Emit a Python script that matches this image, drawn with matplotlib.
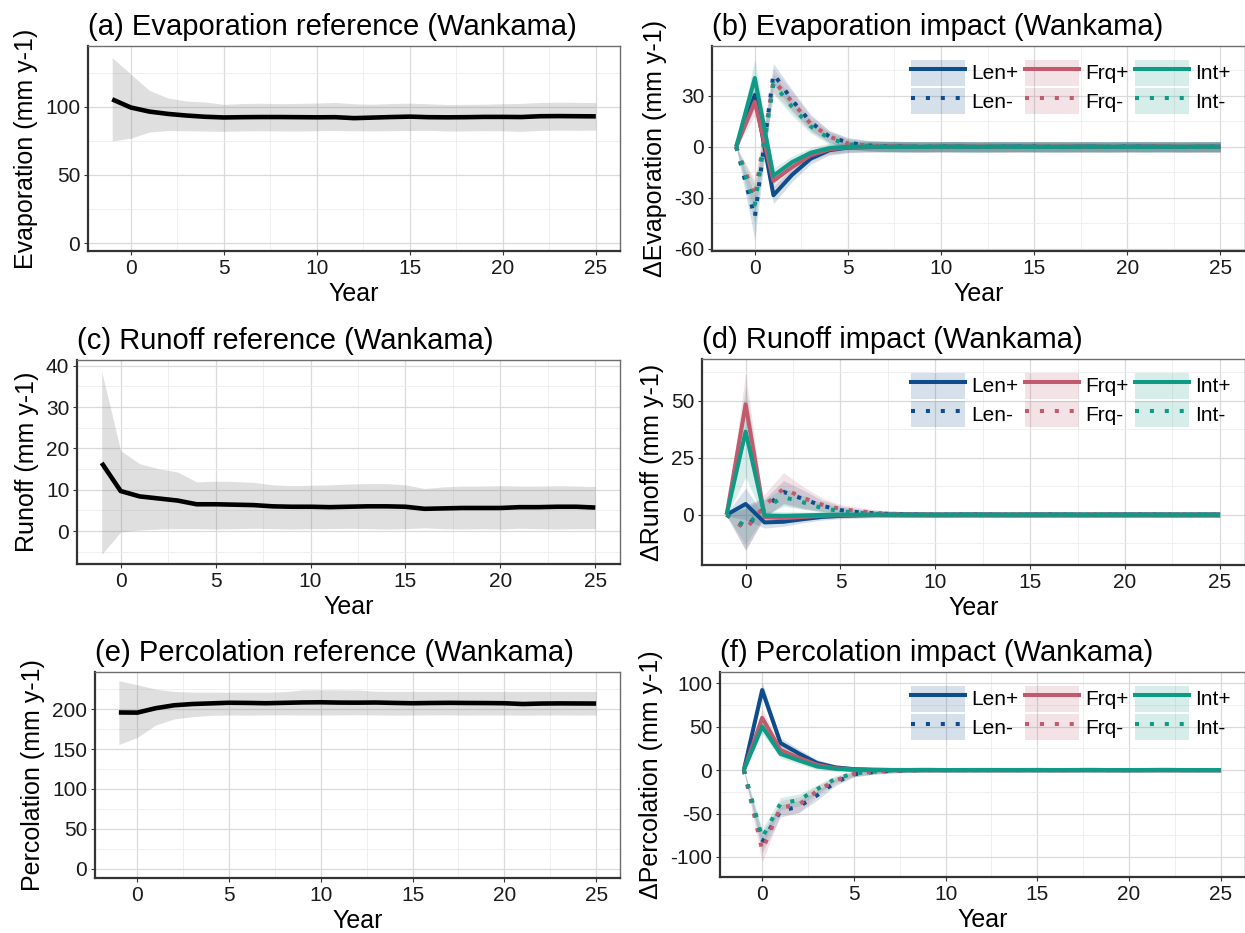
import matplotlib
matplotlib.use("Agg")
import matplotlib.pyplot as plt
from matplotlib.patches import Patch
from matplotlib.lines import Line2D
from matplotlib.ticker import MultipleLocator

plt.rcParams['font.family'] = ['Liberation Sans', 'DejaVu Sans']
plt.rcParams['axes.unicode_minus'] = False

years = list(range(-1, 26))

# reference runs (mean and ribbon bounds)
evap_mean = [105.5, 99.5, 96.5, 94.8, 93.6, 92.7, 92.2, 92.4, 92.5, 92.5, 92.4, 92.3, 92.4, 91.7,
             92.1, 92.5, 92.8, 92.4, 92.3, 92.4, 92.6, 92.6, 92.5, 93.1, 93.2, 93.1, 93.0]
evap_lo = [75.0, 77.0, 81.5, 82.6, 82.4, 82.2, 82.0, 82.3, 82.4, 82.3, 82.2, 82.5, 82.6, 82.4,
           82.3, 82.5, 82.6, 82.8, 82.2, 82.3, 82.5, 82.4, 82.0, 82.7, 82.9, 82.8, 82.9]
evap_hi = [136.0, 124.0, 112.0, 106.5, 104.2, 103.5, 101.8, 102.4, 102.6, 102.3, 102.5, 102.8, 103.2, 102.2,
           101.9, 102.4, 102.7, 102.2, 101.7, 101.8, 101.9, 102.3, 102.5, 103.2, 103.4, 103.3, 103.1]

run_mean = [16.5, 9.7, 8.4, 7.9, 7.4, 6.5, 6.5, 6.4, 6.3, 6.0, 5.9, 5.9, 5.8, 5.9,
            6.0, 6.0, 5.9, 5.4, 5.5, 5.6, 5.6, 5.6, 5.8, 5.8, 5.9, 5.9, 5.7]
run_lo = [-5.6, -0.2, 0.3, 0.5, 0.6, 0.6, 0.5, 0.6, 0.7, 0.6, 0.5, 0.6, 0.6, 0.7,
          0.6, 0.5, 0.6, 0.8, 0.6, 0.5, 0.6, 0.5, 0.7, 0.6, 0.5, 0.6, 0.6]
run_hi = [38.6, 19.5, 16.3, 15.1, 14.3, 11.9, 12.1, 12.0, 11.8, 11.2, 11.0, 11.1, 11.2, 11.4,
          11.5, 11.5, 11.2, 10.3, 10.7, 10.9, 10.9, 11.0, 10.9, 10.9, 11.0, 10.9, 10.8]

perc_mean = [196.0, 195.8, 201.3, 205.0, 206.6, 207.4, 208.2, 208.0, 207.6, 208.1, 208.6, 208.8, 208.4, 208.3,
             208.5, 208.0, 207.6, 207.9, 208.1, 207.9, 207.8, 207.6, 206.6, 207.2, 207.4, 207.3, 207.2]
perc_lo = [155.7, 164.6, 180.2, 187.8, 190.7, 192.4, 192.8, 192.6, 192.9, 193.0, 192.7, 192.8, 192.9, 193.1,
           192.9, 192.6, 192.8, 192.9, 193.0, 192.7, 192.8, 192.9, 192.6, 192.8, 192.9, 192.7, 192.8]
perc_hi = [235.9, 230.8, 225.3, 222.4, 221.6, 221.5, 221.4, 221.6, 221.5, 222.0, 224.3, 224.5, 224.4, 224.2,
           222.6, 222.4, 222.5, 222.4, 222.3, 222.4, 222.5, 222.4, 222.3, 222.4, 222.5, 222.4, 222.3]

# impact runs: scenario minus reference (mean) and ribbon half-width (sd)
evap_len_p = [0, 30.5, -28.5, -16.5, -7.0, -2.0, -0.5, -0.2, 0.0, 0.1, -0.1, 0.0, 0.1, -0.1,
              0.0, 0.1, 0.0, -0.1, 0.0, 0.1, -0.1, 0.0, 0.1, 0.0, -0.1, 0.0, 0.0]
evap_len_m = [0, -41.5, 43.0, 27.5, 14.5, 6.0, 2.5, 0.8, 0.3, 0.1, 0.0, 0.1, 0.0, -0.1,
              0.0, 0.0, 0.1, 0.0, -0.1, 0.0, 0.0, 0.1, 0.0, 0.0, -0.1, 0.0, 0.0]
evap_frq_p = [0, 26.5, -20.0, -12.0, -5.0, -1.5, -0.3, 0.0, 0.1, 0.0, -0.1, 0.0, 0.0, 0.1,
              0.0, -0.1, 0.0, 0.0, 0.1, 0.0, 0.0, -0.1, 0.0, 0.1, 0.0, 0.0, 0.0]
evap_frq_m = [0, -29.5, 39.0, 26.5, 13.5, 6.0, 2.0, 0.8, 0.3, 0.1, 0.0, 0.0, 0.1, 0.0,
              -0.1, 0.0, 0.0, 0.1, 0.0, 0.0, -0.1, 0.0, 0.0, 0.1, 0.0, 0.0, 0.0]
evap_int_p = [0, 40.5, -17.0, -9.0, -3.5, -0.8, 0.0, 0.1, 0.0, -0.1, 0.0, 0.1, 0.0, 0.0,
              0.1, 0.0, -0.1, 0.0, 0.0, 0.1, 0.0, 0.0, -0.1, 0.0, 0.0, 0.1, 0.0]
evap_int_m = [0, -34.0, 37.0, 23.5, 12.0, 5.0, 1.5, 0.5, 0.2, 0.0, 0.1, 0.0, 0.0, -0.1,
              0.0, 0.0, 0.1, 0.0, 0.0, -0.1, 0.0, 0.1, 0.0, 0.0, 0.0, -0.1, 0.0]
evap_len_p_sd = [0.5, 8.0, 5.0, 4.0, 3.2, 3.0, 3.0, 3.0, 3.1, 3.0, 2.9, 3.0, 3.1, 3.0,
                 3.0, 2.9, 3.0, 3.1, 3.0, 3.0, 2.9, 3.0, 3.1, 3.0, 3.0, 3.0, 3.0]
evap_len_m_sd = [0.5, 13.0, 6.0, 6.0, 4.5, 3.5, 3.0, 3.0, 3.0, 3.1, 3.0, 2.9, 3.0, 3.0,
                 3.1, 3.0, 3.0, 2.9, 3.0, 3.0, 3.1, 3.0, 3.0, 2.9, 3.0, 3.0, 3.0]
evap_frq_p_sd = [0.5, 8.0, 4.5, 3.5, 3.0, 3.0, 3.0, 3.0, 2.9, 3.0, 3.0, 3.1, 3.0, 3.0,
                 2.9, 3.0, 3.0, 3.0, 3.1, 3.0, 3.0, 2.9, 3.0, 3.0, 3.1, 3.0, 3.0]
evap_frq_m_sd = [0.5, 10.0, 7.0, 6.0, 4.5, 3.5, 3.0, 3.0, 3.0, 3.0, 3.1, 3.0, 2.9, 3.0,
                 3.0, 3.0, 3.1, 3.0, 3.0, 3.0, 2.9, 3.0, 3.0, 3.1, 3.0, 3.0, 3.0]
evap_int_p_sd = [0.5, 11.0, 4.5, 3.5, 3.0, 3.0, 3.0, 2.9, 3.0, 3.0, 3.0, 3.0, 3.1, 3.0,
                 3.0, 2.9, 3.0, 3.0, 3.0, 3.1, 3.0, 3.0, 2.9, 3.0, 3.0, 3.0, 3.0]
evap_int_m_sd = [0.5, 12.0, 6.0, 5.0, 4.0, 3.5, 3.0, 3.0, 3.1, 3.0, 3.0, 2.9, 3.0, 3.0,
                 3.1, 3.0, 3.0, 3.0, 2.9, 3.0, 3.0, 3.1, 3.0, 3.0, 2.9, 3.0, 3.0]

run_len_p = [0, 4.7, -3.4, -3.1, -2.0, -1.0, -0.5, -0.3, -0.1, 0.0, 0.0, -0.1, 0.0, 0.0,
             0.0, -0.1, 0.0, 0.0, 0.0, -0.1, 0.0, 0.0, 0.0, 0.0, -0.1, 0.0, 0.0]
run_len_m = [0, -5.6, 3.0, 10.0, 7.0, 4.0, 2.0, 1.0, 0.5, 0.2, 0.1, 0.0, 0.0, 0.1,
             0.0, 0.0, 0.0, 0.1, 0.0, 0.0, 0.0, 0.0, 0.1, 0.0, 0.0, 0.0, 0.0]
run_frq_p = [0, 48.5, -1.0, -1.5, -1.0, -0.5, -0.2, -0.1, 0.0, 0.0, 0.0, 0.0, -0.1, 0.0,
             0.0, 0.0, 0.0, 0.0, -0.1, 0.0, 0.0, 0.0, 0.0, 0.0, 0.0, -0.1, 0.0]
run_frq_m = [0, -6.5, 4.0, 11.5, 7.5, 4.5, 2.5, 1.5, 0.7, 0.3, 0.1, 0.0, 0.1, 0.0,
             0.0, 0.1, 0.0, 0.0, 0.0, 0.1, 0.0, 0.0, 0.0, 0.0, 0.1, 0.0, 0.0]
run_int_p = [0, 36.5, -0.4, -0.5, -0.3, -0.1, 0.0, 0.0, 0.0, 0.0, 0.0, 0.0, 0.0, 0.0,
             0.0, 0.0, 0.0, 0.0, 0.0, 0.0, 0.0, 0.0, 0.0, 0.0, 0.0, 0.0, 0.0]
run_int_m = [0, -5.0, 3.0, 7.7, 5.5, 3.0, 1.5, 0.8, 0.3, 0.1, 0.0, 0.0, 0.0, 0.1,
             0.0, 0.0, 0.0, 0.0, 0.1, 0.0, 0.0, 0.0, 0.0, 0.0, 0.0, 0.1, 0.0]
run_len_p_sd = [0.5, 7.0, 2.5, 2.0, 1.6, 1.4, 1.3, 1.2, 1.2, 1.2, 1.2, 1.2, 1.2, 1.2,
                1.2, 1.2, 1.2, 1.2, 1.2, 1.2, 1.2, 1.2, 1.2, 1.2, 1.2, 1.2, 1.2]
run_len_m_sd = [0.5, 10.0, 4.0, 5.0, 4.0, 2.5, 1.8, 1.5, 1.3, 1.2, 1.2, 1.2, 1.2, 1.2,
                1.2, 1.2, 1.2, 1.2, 1.2, 1.2, 1.2, 1.2, 1.2, 1.2, 1.2, 1.2, 1.2]
run_frq_p_sd = [0.5, 14.0, 2.0, 1.8, 1.5, 1.3, 1.2, 1.2, 1.2, 1.2, 1.2, 1.2, 1.2, 1.2,
                1.2, 1.2, 1.2, 1.2, 1.2, 1.2, 1.2, 1.2, 1.2, 1.2, 1.2, 1.2, 1.2]
run_frq_m_sd = [0.5, 9.0, 5.0, 7.0, 5.0, 3.0, 2.0, 1.6, 1.3, 1.2, 1.2, 1.2, 1.2, 1.2,
                1.2, 1.2, 1.2, 1.2, 1.2, 1.2, 1.2, 1.2, 1.2, 1.2, 1.2, 1.2, 1.2]
run_int_p_sd = [0.5, 20.0, 2.0, 1.8, 1.5, 1.3, 1.2, 1.2, 1.2, 1.2, 1.2, 1.2, 1.2, 1.2,
                1.2, 1.2, 1.2, 1.2, 1.2, 1.2, 1.2, 1.2, 1.2, 1.2, 1.2, 1.2, 1.2]
run_int_m_sd = [0.5, 8.0, 3.5, 4.0, 3.0, 2.0, 1.6, 1.4, 1.3, 1.2, 1.2, 1.2, 1.2, 1.2,
                1.2, 1.2, 1.2, 1.2, 1.2, 1.2, 1.2, 1.2, 1.2, 1.2, 1.2, 1.2, 1.2]

perc_len_p = [0, 92.0, 31.0, 19.0, 8.0, 3.0, 1.0, 0.3, 0.1, 0.0, 0.1, 0.0, 0.0, 0.1,
              0.0, 0.0, 0.1, 0.0, 0.0, 0.1, 0.0, 0.0, 0.0, 0.1, 0.0, 0.0, 0.0]
perc_len_m = [0, -83.0, -47.0, -42.0, -29.0, -14.0, -5.0, -2.5, -1.0, -0.3, -0.1, 0.0, 0.0, -0.1,
              0.0, 0.0, 0.0, -0.1, 0.0, 0.0, 0.0, -0.1, 0.0, 0.0, 0.0, 0.0, 0.0]
perc_frq_p = [0, 60.0, 23.0, 14.0, 6.0, 2.0, 0.5, 0.2, 0.0, 0.1, 0.0, 0.0, 0.1, 0.0,
              0.0, 0.1, 0.0, 0.0, 0.0, 0.1, 0.0, 0.0, 0.1, 0.0, 0.0, 0.0, 0.0]
perc_frq_m = [0, -92.0, -43.0, -40.0, -24.0, -12.0, -4.5, -2.0, -1.0, -0.3, 0.0, -0.1, 0.0, 0.0,
              0.0, -0.1, 0.0, 0.0, 0.0, 0.0, -0.1, 0.0, 0.0, 0.0, 0.0, 0.0, 0.0]
perc_int_p = [0, 50.0, 18.5, 11.0, 4.0, 1.5, 0.3, 0.1, 0.0, 0.0, 0.1, 0.0, 0.0, 0.0,
              0.1, 0.0, 0.0, 0.0, 0.1, 0.0, 0.0, 0.0, 0.0, 0.1, 0.0, 0.0, 0.0]
perc_int_m = [0, -78.0, -38.5, -34.5, -22.0, -10.0, -4.0, -2.0, -0.5, -0.2, 0.0, 0.0, -0.1, 0.0,
              0.0, 0.0, -0.1, 0.0, 0.0, 0.0, 0.0, -0.1, 0.0, 0.0, 0.0, 0.0, 0.0]
perc_len_p_sd = [1.0, 9.0, 6.0, 5.0, 4.0, 3.0, 2.7, 2.5, 2.5, 2.5, 2.5, 2.5, 2.5, 2.5,
                 2.5, 2.5, 2.5, 2.5, 2.5, 2.5, 2.5, 2.5, 2.5, 2.5, 2.5, 2.5, 2.5]
perc_len_m_sd = [1.0, 12.0, 7.0, 7.0, 5.5, 4.0, 3.0, 2.7, 2.5, 2.5, 2.5, 2.5, 2.5, 2.5,
                 2.5, 2.5, 2.5, 2.5, 2.5, 2.5, 2.5, 2.5, 2.5, 2.5, 2.5, 2.5, 2.5]
perc_frq_p_sd = [1.0, 10.0, 5.5, 4.5, 3.5, 3.0, 2.7, 2.5, 2.5, 2.5, 2.5, 2.5, 2.5, 2.5,
                 2.5, 2.5, 2.5, 2.5, 2.5, 2.5, 2.5, 2.5, 2.5, 2.5, 2.5, 2.5, 2.5]
perc_frq_m_sd = [1.0, 14.0, 8.0, 9.0, 6.0, 4.0, 3.0, 2.7, 2.5, 2.5, 2.5, 2.5, 2.5, 2.5,
                 2.5, 2.5, 2.5, 2.5, 2.5, 2.5, 2.5, 2.5, 2.5, 2.5, 2.5, 2.5, 2.5]
perc_int_p_sd = [1.0, 8.0, 5.0, 4.0, 3.5, 3.0, 2.7, 2.5, 2.5, 2.5, 2.5, 2.5, 2.5, 2.5,
                 2.5, 2.5, 2.5, 2.5, 2.5, 2.5, 2.5, 2.5, 2.5, 2.5, 2.5, 2.5, 2.5]
perc_int_m_sd = [1.0, 10.0, 7.0, 7.0, 5.0, 3.5, 3.0, 2.7, 2.5, 2.5, 2.5, 2.5, 2.5, 2.5,
                 2.5, 2.5, 2.5, 2.5, 2.5, 2.5, 2.5, 2.5, 2.5, 2.5, 2.5, 2.5, 2.5]

labels = ['Len+', 'Len-', 'Frq+', 'Frq-', 'Int+', 'Int-']
colors = ['#0E4C8C', '#0E4C8C', '#C05A6C', '#C05A6C', '#0F9A86', '#0F9A86']
styles = ['-', (0, (1, 2.7)), '-', (0, (1, 2.7)), '-', (0, (1, 2.7))]

W, H = 1245, 933
fig = plt.figure(figsize=(W / 100, H / 100), dpi=100)


def make_ax(l, r, t, b):
    return fig.add_axes([l / W, 1 - b / H, (r - l) / W, (b - t) / H])


def style(ax, title, ylabel, ylim, ystep):
    ax.set_xlim(-2.3, 26.3)
    ax.set_ylim(*ylim)
    ax.xaxis.set_major_locator(MultipleLocator(5))
    ax.xaxis.set_minor_locator(MultipleLocator(2.5))
    ax.yaxis.set_major_locator(MultipleLocator(ystep))
    ax.yaxis.set_minor_locator(MultipleLocator(ystep / 2))
    ax.grid(which='major', color='#DADADA', lw=0.9)
    ax.grid(which='minor', color='#EDEDED', lw=0.6)
    ax.set_axisbelow(True)
    for s in ['top', 'right']:
        ax.spines[s].set_color('#6E6E6E')
        ax.spines[s].set_linewidth(1.0)
    for s in ['left', 'bottom']:
        ax.spines[s].set_color('#333333')
        ax.spines[s].set_linewidth(1.6)
    ax.tick_params(which='major', length=3, width=0.8, color='#333333', pad=2.5,
                   labelsize=15, labelcolor='#1A1A1A')
    ax.tick_params(which='minor', length=0)
    ax.set_xlabel('Year', fontsize=18, labelpad=3)
    ax.set_ylabel(ylabel, fontsize=18, labelpad=5)
    ax.set_title(title, loc='left', fontsize=21, pad=8)


def reference(ax, mean, lo, hi):
    ax.fill_between(years, lo, hi, color='gray', alpha=0.25, lw=0)
    ax.plot(years, mean, color='black', lw=3.3, solid_capstyle='butt')


def impact(ax, series, sds):
    for m, sd, c in zip(series, sds, colors):
        ax.fill_between(years, [v - s for v, s in zip(m, sd)], [v + s for v, s in zip(m, sd)],
                        color=c, alpha=0.17, lw=0)
    for m, c, ls in zip(series, colors, styles):
        ax.plot(years, m, color=c, lw=2.9, ls=ls, solid_capstyle='butt')
    handles = [(Patch(facecolor=c, alpha=0.17, edgecolor='none'),
                Line2D([], [], color=c, lw=2.9, ls=ls))
               for c, ls in zip(colors, styles)]
    ax.legend(handles, labels, ncol=3, loc='upper right', frameon=False, fontsize=15,
              handlelength=2.6, handleheight=1.55, labelspacing=0.1, handletextpad=0.3,
              columnspacing=0.3, borderpad=0, borderaxespad=0.65)


ax = make_ax(88, 620, 46, 251.5)
reference(ax, evap_mean, evap_lo, evap_hi)
style(ax, '(a) Evaporation reference (Wankama)', 'Evaporation (mm y-1)', (-6.1, 144.6), 50)

ax = make_ax(712, 1244.5, 46, 251.5)
impact(ax, [evap_len_p, evap_len_m, evap_frq_p, evap_frq_m, evap_int_p, evap_int_m],
       [evap_len_p_sd, evap_len_m_sd, evap_frq_p_sd, evap_frq_m_sd, evap_int_p_sd, evap_int_m_sd])
style(ax, '(b) Evaporation impact (Wankama)', '\u0394Evaporation (mm y-1)', (-61.6, 59.3), 30)

ax = make_ax(77, 620, 360, 564)
reference(ax, run_mean, run_lo, run_hi)
style(ax, '(c) Runoff reference (Wankama)', 'Runoff (mm y-1)', (-7.95, 41.4), 10)

ax = make_ax(702, 1244.5, 359, 565)
impact(ax, [run_len_p, run_len_m, run_frq_p, run_frq_m, run_int_p, run_int_m],
       [run_len_p_sd, run_len_m_sd, run_frq_p_sd, run_frq_m_sd, run_int_p_sd, run_int_m_sd])
style(ax, '(d) Runoff impact (Wankama)', '\u0394Runoff (mm y-1)', (-22.1, 68.4), 25)

ax = make_ax(95, 620, 672, 878)
reference(ax, perc_mean, perc_lo, perc_hi)
style(ax, '(e) Percolation reference (Wankama)', 'Percolation (mm y-1)', (-11.8, 246.8), 50)

ax = make_ax(720, 1244.5, 672, 877)
impact(ax, [perc_len_p, perc_len_m, perc_frq_p, perc_frq_m, perc_int_p, perc_int_m],
       [perc_len_p_sd, perc_len_m_sd, perc_frq_p_sd, perc_frq_m_sd, perc_int_p_sd, perc_int_m_sd])
style(ax, '(f) Percolation impact (Wankama)', '\u0394Percolation (mm y-1)', (-123, 112.7), 50)

fig.savefig('out.png', dpi=100)
